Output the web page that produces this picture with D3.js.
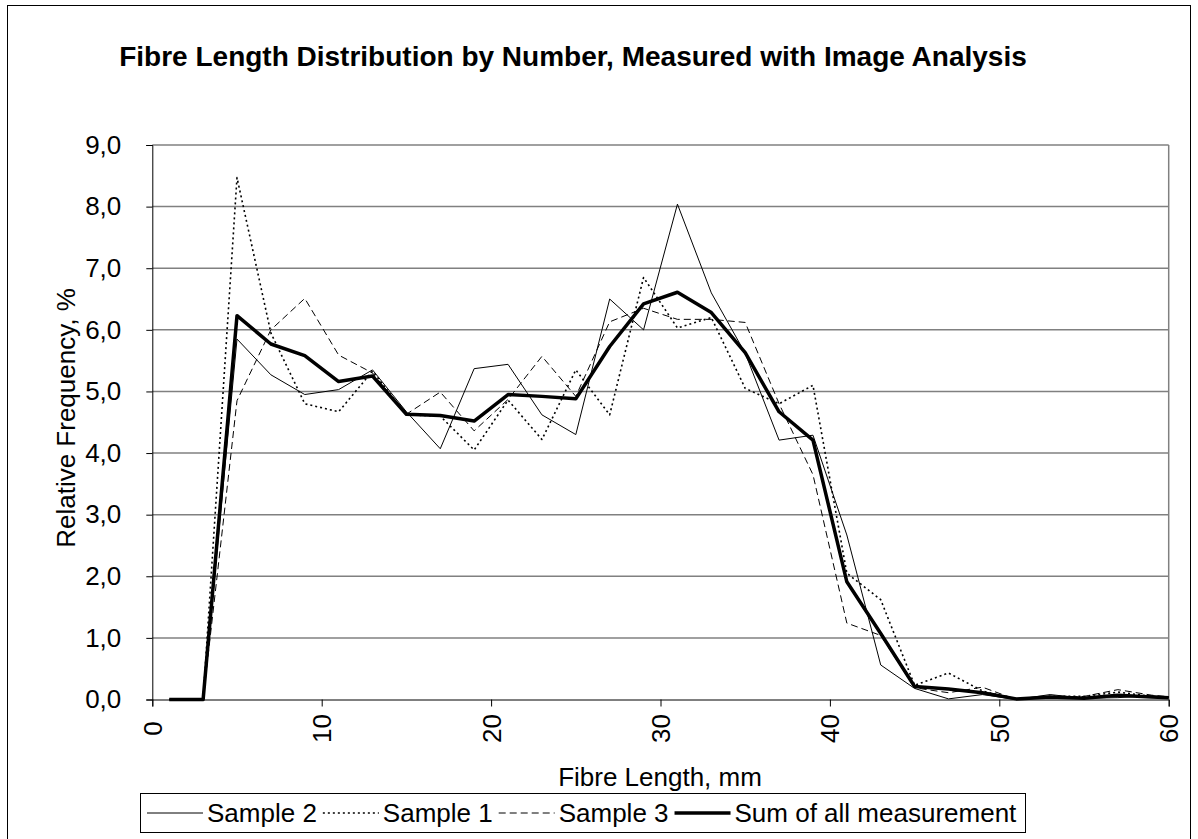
<!DOCTYPE html>
<html><head><meta charset="utf-8">
<script src="https://cdn.jsdelivr.net/npm/d3@7"></script>
<style>html,body{margin:0;padding:0;background:#fff}svg{display:block}text{font-family:"Liberation Sans",Arial,sans-serif;fill:#000}</style>
</head><body>
<svg id="c" width="1198" height="839"></svg>
<script>
const lengths = [1,3,5,7,9,11,13,15,17,19,21,23,25,27,29,31,33,35,37,39,41,43,45,47,49,51,53,55,57,59,61];
const sample2 = [0,0,5.85,5.27,4.95,5.03,5.35,4.67,4.07,5.37,5.44,4.62,4.30,6.50,6.00,8.04,6.60,5.62,4.21,4.29,2.67,0.56,0.18,0.01,0.08,0.00,0.08,0.02,0.03,0.06,0.02];
const sample1 = [0,0,8.47,5.95,4.80,4.67,5.33,4.62,4.60,4.05,4.86,4.22,5.35,4.62,6.85,6.03,6.20,5.05,4.80,5.10,2.05,1.62,0.23,0.43,0.14,0.00,0.05,0.05,0.12,0.05,0.02];
const sample3 = [0,0,4.85,6.00,6.51,5.59,5.30,4.63,4.99,4.36,4.87,5.57,4.92,6.13,6.35,6.17,6.17,6.12,4.80,3.65,1.24,1.04,0.19,0.11,0.20,0.00,0.03,0.05,0.16,0.07,0.02];
const sumAll  = [0,0,6.23,5.77,5.58,5.16,5.25,4.63,4.61,4.52,4.95,4.92,4.88,5.73,6.42,6.61,6.28,5.63,4.67,4.21,1.91,1.07,0.21,0.17,0.11,0.01,0.04,0.02,0.07,0.04,0.02];
const xTicks = [0,10,20,30,40,50,60];
const yTicks = [0,1,2,3,4,5,6,7,8,9];
const seriesNames = ["Sample 2","Sample 1","Sample 3","Sum of all measurement"];

const series = [
  {name: seriesNames[0], values: sample2, width: 1, dash: null},
  {name: seriesNames[1], values: sample1, width: 1.6, dash: "2,3"},
  {name: seriesNames[2], values: sample3, width: 1, dash: "7,4"},
  {name: seriesNames[3], values: sumAll, width: 3.5, dash: null}
];

const svg = d3.select("#c");
const L = 152.3, R = 1168.7, T = 145, B = 699.5;
const x = d3.scaleLinear().domain([0,60]).range([L,R]);
const y = d3.scaleLinear().domain([0,9]).range([B,T]);
const fs = 26;

// outer border
svg.append("rect").attr("x",7.5).attr("y",5.5).attr("width",1183).attr("height",845)
  .attr("fill","none").attr("stroke","#000").attr("stroke-width",1);

// title
svg.append("text").attr("x",573).attr("y",66).attr("text-anchor","middle")
  .attr("font-weight","bold").attr("font-size",28)
  .text("Fibre Length Distribution by Number, Measured with Image Analysis");

// gridlines
svg.append("g").selectAll("line").data(yTicks.filter(d=>d>0)).join("line")
  .attr("x1",L).attr("x2",R).attr("y1",d=>y(d)).attr("y2",d=>y(d))
  .attr("stroke","#808080").attr("stroke-width",1.5);
// right border
svg.append("line").attr("x1",R).attr("x2",R).attr("y1",T).attr("y2",B)
  .attr("stroke","#808080").attr("stroke-width",1.5);

// axes
const yAxis = d3.axisLeft(y).tickValues(yTicks).tickSize(6).tickPadding(25)
  .tickFormat(d=>d3.format(".1f")(d).replace(".",","));
const gy = svg.append("g").attr("transform",`translate(${L},0)`).call(yAxis);
gy.select(".domain").attr("stroke","#000");
gy.selectAll(".tick line").attr("stroke","#000");
gy.selectAll("text").attr("font-size",fs).attr("font-family",'"Liberation Sans",Arial,sans-serif').attr("fill","#000");

const xAxis = d3.axisBottom(x).tickValues(xTicks).tickSize(7).tickFormat(d3.format("d"));
const gx = svg.append("g").attr("transform",`translate(0,${B})`).call(xAxis);
gx.select(".domain").attr("stroke","#000");
gx.selectAll(".tick line").attr("stroke","#000");
gx.selectAll("text").attr("font-size",fs).attr("font-family",'"Liberation Sans",Arial,sans-serif').attr("fill","#000")
  .attr("text-anchor","middle").attr("dy",null).attr("y",0)
  .attr("transform","translate(9,29) rotate(-90)");

// axis titles
svg.append("text").attr("transform","translate(75,418) rotate(-90)").attr("text-anchor","middle")
  .attr("font-size",fs).text("Relative Frequency, %");
svg.append("text").attr("x",660).attr("y",786).attr("text-anchor","middle")
  .attr("font-size",fs).text("Fibre Length, mm");

// clip
svg.append("clipPath").attr("id","pc").append("rect").attr("x",L).attr("y",0).attr("width",R-L).attr("height",B+5);

const line = d3.line().x((d,i)=>x(lengths[i])).y(d=>y(d));
const gl = svg.append("g").attr("clip-path","url(#pc)");
series.forEach(s=>{
  gl.append("path").attr("d",line(s.values)).attr("fill","none").attr("stroke","#000")
    .attr("stroke-width",s.width).attr("stroke-dasharray",s.dash).attr("stroke-linejoin","round");
});

// legend
const lg = svg.append("g");
lg.append("rect").attr("x",140.5).attr("y",793.5).attr("width",885).attr("height",39)
  .attr("fill","#fff").attr("stroke","#000").attr("stroke-width",1);
let cx = 147;
series.forEach(s=>{
  lg.append("line").attr("x1",cx).attr("x2",cx+56).attr("y1",813).attr("y2",813)
    .attr("stroke","#000").attr("stroke-width",s.width).attr("stroke-dasharray",s.dash);
  const t = lg.append("text").attr("x",cx+60).attr("y",822).attr("font-size",fs).text(s.name);
  cx += 60 + t.node().getComputedTextLength() + 6;
});
</script>
</body></html>
